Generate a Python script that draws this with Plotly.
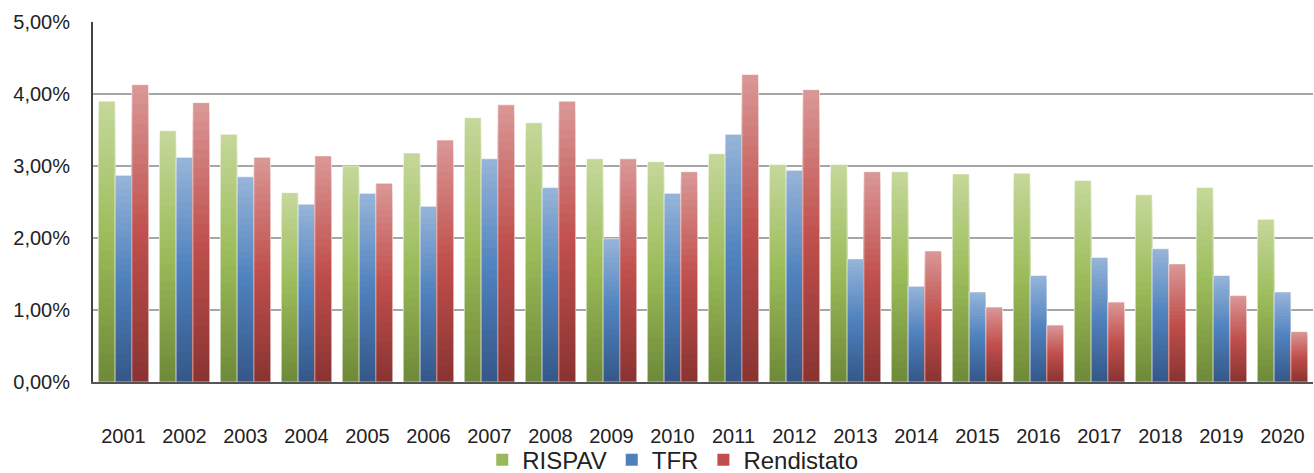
import plotly.graph_objects as go

years = [str(y) for y in range(2001, 2021)]
rispav = [3.90, 3.49, 3.44, 2.63, 3.00, 3.18, 3.67, 3.60, 3.10, 3.06,
          3.17, 3.02, 3.02, 2.92, 2.89, 2.90, 2.80, 2.60, 2.70, 2.26]
tfr = [2.87, 3.12, 2.85, 2.47, 2.62, 2.44, 3.10, 2.70, 1.99, 2.62,
       3.44, 2.94, 1.71, 1.33, 1.25, 1.48, 1.73, 1.85, 1.48, 1.25]
rendistato = [4.13, 3.88, 3.12, 3.14, 2.76, 3.36, 3.85, 3.90, 3.10, 2.92,
              4.27, 4.06, 2.92, 1.82, 1.04, 0.79, 1.11, 1.64, 1.20, 0.70]

series = [
    ("RISPAV", rispav, ((197, 216, 155), (155, 187, 89), (110, 137, 56))),
    ("TFR", tfr, ((151, 181, 217), (79, 129, 189), (53, 87, 136))),
    ("Rendistato", rendistato, ((218, 152, 150), (192, 80, 77), (137, 51, 49))),
]

K = 30


def grad(c, t):
    top, mid, bot = c
    if t >= 0.5:
        u = (t - 0.5) / 0.5
        a, b = mid, top
    else:
        u = t / 0.5
        a, b = bot, mid
    return "rgb(%d,%d,%d)" % tuple(round(a[i] + (b[i] - a[i]) * u) for i in range(3))


fig = go.Figure()
for name, vals, cols in series:
    for j in range(K):
        f = 1 - j / K
        t = f - 0.5 / K
        fig.add_trace(go.Bar(
            x=years, y=[v * f for v in vals], name=name,
            offsetgroup=name, legendgroup=name,
            showlegend=(j == K // 2),
            marker=dict(color=grad(cols, t), line=dict(width=0)),
            hoverinfo="skip",
        ))
    fig.add_trace(go.Bar(
        x=years, y=vals, name=name, offsetgroup=name, legendgroup=name,
        showlegend=False,
        marker=dict(color="rgba(0,0,0,0)",
                    line=dict(color="rgba(255,255,255,0.55)", width=1)),
    ))

fig.update_layout(
    width=1314, height=473,
    margin=dict(l=93, r=1, t=22, b=91, autoexpand=False),
    barmode="group", bargap=0.18, bargroupgap=0,
    plot_bgcolor="white", paper_bgcolor="white",
    separators=",.",
    font=dict(family="Liberation Sans, Arial, sans-serif", color="#222222", size=20),
    showlegend=True,
    legend=dict(orientation="h", x=0.512, xanchor="center",
                xref="container", yref="container", y=0.027, yanchor="middle",
                font=dict(size=24), itemwidth=30, traceorder="normal",
                tracegroupgap=0, borderwidth=0, bgcolor="rgba(0,0,0,0)"),
)
fig.update_yaxes(
    range=[0, 5], dtick=1, tickformat=".2f", ticksuffix="%",
    showgrid=True, gridcolor="#a6a6a6", gridwidth=2,
    showline=True, linecolor="#444444", linewidth=2,
    ticks="", ticklabelstandoff=17, tickfont=dict(size=20),
    zeroline=False, automargin=False,
)
fig.update_xaxes(
    showline=True, linecolor="#555555", linewidth=2,
    ticks="", ticklabelstandoff=35, tickfont=dict(size=20),
    showgrid=False, automargin=False,
)

fig.write_html("out.html", config={"displayModeBar": False},
               post_script="document.body.style.margin='0';")
